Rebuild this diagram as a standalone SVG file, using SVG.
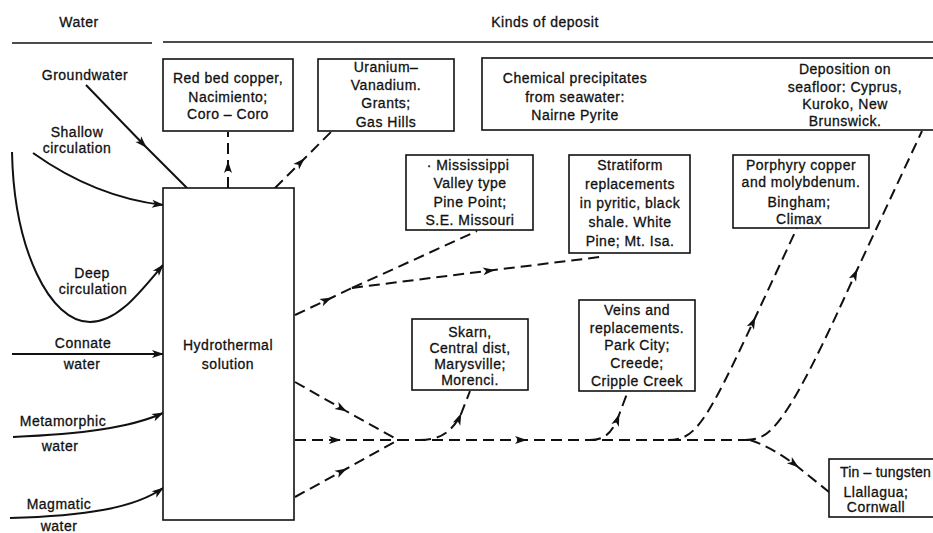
<svg xmlns="http://www.w3.org/2000/svg" width="933" height="533" viewBox="0 0 933 533">
  <defs>
    <marker id="ah" viewBox="0 0 12 10" refX="11" refY="5" markerWidth="13" markerHeight="10" markerUnits="userSpaceOnUse" orient="auto">
      <path d="M0,1 L12,5 L0,9 L3,5 Z" fill="#111"/>
    </marker>
    <marker id="ah2" viewBox="0 0 12 10" refX="11" refY="5" markerWidth="13" markerHeight="10" markerUnits="userSpaceOnUse" orient="auto-start-reverse">
      <path d="M0,1 L12,5 L0,9 L3,5 Z" fill="#111"/>
    </marker>
  </defs>
  <style>
    text { font-family: "Liberation Sans", Arial, sans-serif; font-size: 14px; fill: #111; stroke: #111; stroke-width: 0.3px; letter-spacing: 0.5px; text-anchor: middle; }
    .box { fill: #fff; stroke: #111; stroke-width: 1.6; }
    .rule { stroke: #111; stroke-width: 1.6; fill: none; }
    .solid { stroke: #111; stroke-width: 2; fill: none; }
    .dash { stroke: #111; stroke-width: 2; fill: none; stroke-dasharray: 11 6; }
  </style>
  <rect width="933" height="533" fill="#fff"/>

  <!-- column headings -->
  <g id="headings">
    <text x="79" y="27">Water</text>
    <text x="545" y="27">Kinds of deposit</text>
    <line class="rule" x1="12" y1="43" x2="152" y2="43"/>
    <line class="rule" x1="163" y1="42" x2="933" y2="42"/>
  </g>

  <!-- water sources -->
  <g id="src-groundwater"><text x="85" y="80">Groundwater</text></g>
  <g id="src-shallow"><text x="77" y="137">Shallow</text><text x="77" y="153">circulation</text></g>
  <g id="src-deep"><text x="92" y="278">Deep</text><text x="93" y="294">circulation</text></g>
  <g id="src-connate"><text x="83" y="348">Connate</text><text x="82" y="369">water</text></g>
  <g id="src-metamorphic"><text x="63" y="426">Metamorphic</text><text x="60" y="451">water</text></g>
  <g id="src-magmatic"><text x="59" y="509">Magmatic</text><text x="59" y="531">water</text></g>

  <!-- connectors -->
  <g id="connectors">
    <path class="solid" d="M86,85 L146,147 L187,188" marker-mid="url(#ah)"/>
    <path class="solid" d="M33,153 Q95,197 163,205" marker-end="url(#ah)"/>
    <path class="solid" d="M12,152 C14,250 50,322 90,322 C118,322 140,292 163,265" marker-end="url(#ah)"/>
    <path class="solid" d="M12,354 H163" marker-end="url(#ah)"/>
    <path class="solid" d="M13,437 C80,434 130,428 163,413" marker-end="url(#ah)"/>
    <path class="solid" d="M10,518 C85,516 135,508 163,488" marker-end="url(#ah)"/>

    <path class="dash" d="M228,188 L228,162 L228,132" marker-mid="url(#ah)"/>
    <path class="dash" d="M275,188 L304,159 L332,131" marker-mid="url(#ah)"/>

    <path class="dash" d="M295,315 L331,298 L352,288" marker-mid="url(#ah)"/>
    <path class="dash" d="M352,288 L477,231"/>
    <path class="dash" d="M352,288 L494,270 L600,257" marker-mid="url(#ah)"/>

    <path class="dash" d="M295,382 L346,411 L398,440" marker-mid="url(#ah)"/>
    <path class="dash" d="M295,440 L340,440 L398,440" marker-mid="url(#ah)"/>
    <path class="dash" d="M295,497 L346,469 L398,440" marker-mid="url(#ah)"/>

    <path class="dash" d="M398,440 L526,440 L750,440" marker-mid="url(#ah)"/>
    <path class="dash" d="M420,440 C440,440 452,432 461,414 L470,391" marker-mid="url(#ah)"/>
    <path class="dash" d="M590,440 C606,440 613,431 619,415 L628,391" marker-mid="url(#ah)"/>
    <path class="dash" d="M668,440 C695,440 705,425 755,318 L797,228" marker-mid="url(#ah)"/>
    <path class="dash" d="M745,440 C770,440 785,430 857,270 L922,131" marker-mid="url(#ah)"/>
    <path class="dash" d="M750,440 Q772,447 798,467 L829,492" marker-mid="url(#ah)"/>

    <path class="solid" d="M663,97 L765,97" marker-start="url(#ah2)" marker-end="url(#ah2)"/>
  </g>

  <!-- hydrothermal solution -->
  <g id="hydrothermal">
    <rect class="box" x="163" y="188" width="131" height="332"/>
    <text x="228" y="350">Hydrothermal</text>
    <text x="228" y="369">solution</text>
  </g>

  <!-- deposits -->
  <g id="red-bed">
    <rect class="box" x="163" y="59" width="130" height="72"/>
    <text x="228" y="83">Red bed copper,</text>
    <text x="228" y="102">Nacimiento;</text>
    <text x="228" y="119">Coro – Coro</text>
  </g>
  <g id="uranium">
    <rect class="box" x="318" y="59" width="136" height="72"/>
    <text x="386" y="72">Uranium–</text>
    <text x="386" y="90">Vanadium.</text>
    <text x="386" y="108">Grants;</text>
    <text x="386" y="127">Gas Hills</text>
  </g>
  <g id="seawater">
    <rect class="box" x="482" y="58" width="470" height="72"/>
    <text x="575" y="83">Chemical precipitates</text>
    <text x="575" y="102">from seawater:</text>
    <text x="575" y="120">Nairne Pyrite</text>
    <text x="845" y="74">Deposition on</text>
    <text x="845" y="92">seafloor: Cyprus,</text>
    <text x="845" y="109">Kuroko, New</text>
    <text x="845" y="126">Brunswick.</text>
  </g>
  <g id="mississippi">
    <rect class="box" x="406" y="155" width="127" height="75"/>
    <text x="468" y="170">· Mississippi</text>
    <text x="470" y="188">Valley type</text>
    <text x="470" y="207">Pine Point;</text>
    <text x="470" y="225">S.E. Missouri</text>
  </g>
  <g id="stratiform">
    <rect class="box" x="569" y="155" width="121" height="98"/>
    <text x="630" y="170">Stratiform</text>
    <text x="630" y="189">replacements</text>
    <text x="630" y="208">in pyritic, black</text>
    <text x="630" y="227">shale. White</text>
    <text x="630" y="246">Pine; Mt. Isa.</text>
  </g>
  <g id="porphyry">
    <rect class="box" x="733" y="155" width="136" height="73"/>
    <text x="801" y="170">Porphyry copper</text>
    <text x="801" y="187">and molybdenum.</text>
    <text x="799" y="207">Bingham;</text>
    <text x="799" y="224">Climax</text>
  </g>
  <g id="skarn">
    <rect class="box" x="412" y="319" width="116" height="71"/>
    <text x="470" y="337">Skarn,</text>
    <text x="470" y="353">Central dist,</text>
    <text x="470" y="369">Marysville;</text>
    <text x="470" y="385">Morenci.</text>
  </g>
  <g id="veins">
    <rect class="box" x="579" y="300" width="116" height="91"/>
    <text x="637" y="315">Veins and</text>
    <text x="637" y="333">replacements.</text>
    <text x="637" y="350">Park City;</text>
    <text x="637" y="368">Creede;</text>
    <text x="637" y="386">Cripple Creek</text>
  </g>
  <g id="tin">
    <rect class="box" x="829" y="459" width="120" height="58"/>
    <text x="931" y="477" style="text-anchor:end; letter-spacing:0.2px">Tin – tungsten</text>
    <text x="876" y="497">Llallagua;</text>
    <text x="876" y="512">Cornwall</text>
  </g>
</svg>
